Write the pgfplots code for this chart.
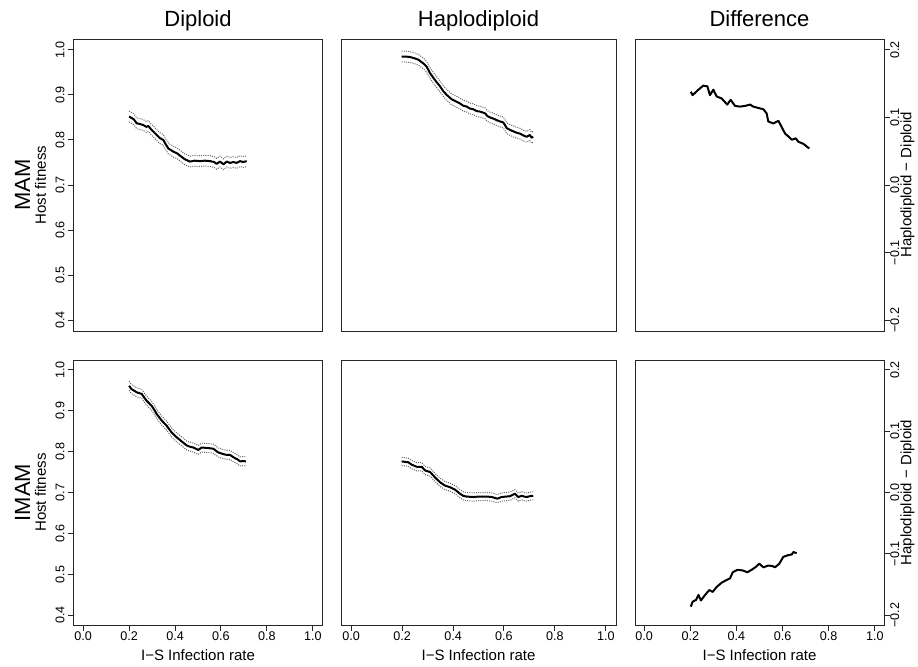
\documentclass[border=0pt]{standalone}
\usepackage{pgfplots}
\pgfplotsset{compat=1.18}
\usepackage{pgfplotstable}
\usepackage{fontspec}
\setmainfont{Liberation Sans}

% Diploid, MAM
\pgfplotstableread{
x y lo hi
0.200 0.852 0.840 0.864
0.210 0.849 0.837 0.861
0.220 0.846 0.834 0.858
0.233 0.837 0.825 0.849
0.250 0.835 0.823 0.847
0.262 0.833 0.821 0.845
0.275 0.829 0.817 0.841
0.284 0.831 0.819 0.843
0.295 0.824 0.812 0.836
0.305 0.819 0.807 0.831
0.320 0.811 0.799 0.823
0.334 0.804 0.792 0.816
0.349 0.800 0.788 0.812
0.360 0.790 0.778 0.802
0.371 0.781 0.769 0.793
0.393 0.774 0.762 0.786
0.410 0.770 0.758 0.782
0.422 0.765 0.753 0.777
0.443 0.757 0.745 0.769
0.465 0.752 0.740 0.764
0.485 0.754 0.742 0.766
0.509 0.753 0.741 0.765
0.530 0.754 0.742 0.766
0.553 0.753 0.741 0.765
0.570 0.751 0.739 0.763
0.581 0.747 0.735 0.759
0.596 0.752 0.740 0.764
0.611 0.746 0.734 0.758
0.625 0.752 0.740 0.764
0.640 0.749 0.737 0.761
0.654 0.751 0.739 0.763
0.668 0.749 0.737 0.761
0.683 0.753 0.741 0.765
0.697 0.751 0.739 0.763
0.712 0.753 0.741 0.765
}\dipMAM

% Haplodiploid, MAM
\pgfplotstableread{
x y lo hi
0.198 0.985 0.973 0.997
0.215 0.985 0.973 0.997
0.231 0.984 0.972 0.996
0.250 0.981 0.969 0.993
0.264 0.978 0.966 0.990
0.283 0.970 0.958 0.982
0.296 0.963 0.951 0.975
0.310 0.948 0.936 0.960
0.329 0.933 0.921 0.945
0.349 0.919 0.907 0.931
0.362 0.908 0.896 0.920
0.375 0.900 0.888 0.912
0.395 0.890 0.878 0.902
0.410 0.886 0.874 0.898
0.427 0.881 0.869 0.893
0.440 0.876 0.864 0.888
0.454 0.874 0.862 0.886
0.465 0.870 0.858 0.882
0.480 0.868 0.856 0.880
0.493 0.864 0.852 0.876
0.506 0.863 0.851 0.875
0.526 0.859 0.847 0.871
0.535 0.853 0.841 0.865
0.545 0.850 0.838 0.862
0.560 0.847 0.835 0.859
0.571 0.844 0.832 0.856
0.585 0.841 0.829 0.853
0.597 0.839 0.827 0.851
0.605 0.832 0.820 0.844
0.611 0.826 0.814 0.838
0.625 0.822 0.810 0.834
0.637 0.819 0.807 0.831
0.650 0.816 0.804 0.828
0.663 0.814 0.802 0.826
0.676 0.810 0.798 0.822
0.689 0.807 0.795 0.819
0.702 0.811 0.799 0.823
0.708 0.805 0.793 0.817
0.715 0.807 0.795 0.819
}\hapMAM

% Difference, MAM
\pgfplotstableread{
x y
0.202 0.138
0.210 0.133
0.235 0.141
0.256 0.147
0.274 0.146
0.285 0.133
0.300 0.141
0.314 0.131
0.336 0.128
0.360 0.119
0.375 0.126
0.394 0.117
0.415 0.116
0.437 0.117
0.459 0.119
0.473 0.116
0.495 0.114
0.517 0.112
0.531 0.106
0.538 0.094
0.560 0.091
0.582 0.095
0.596 0.086
0.611 0.076
0.625 0.072
0.640 0.067
0.658 0.069
0.668 0.064
0.690 0.061
0.705 0.057
0.716 0.054
}\difMAM

% Diploid, IMAM
\pgfplotstableread{
x y lo hi
0.200 0.961 0.950 0.972
0.210 0.953 0.942 0.964
0.222 0.949 0.938 0.960
0.233 0.945 0.934 0.956
0.245 0.943 0.932 0.954
0.255 0.941 0.930 0.952
0.266 0.932 0.921 0.943
0.277 0.924 0.913 0.935
0.298 0.912 0.901 0.923
0.310 0.902 0.891 0.913
0.320 0.892 0.881 0.903
0.342 0.876 0.865 0.887
0.364 0.863 0.852 0.874
0.385 0.847 0.836 0.858
0.407 0.835 0.824 0.846
0.429 0.825 0.814 0.836
0.451 0.815 0.804 0.826
0.465 0.812 0.801 0.823
0.480 0.810 0.799 0.821
0.501 0.804 0.793 0.815
0.516 0.810 0.799 0.821
0.538 0.809 0.798 0.820
0.555 0.808 0.797 0.819
0.567 0.807 0.796 0.818
0.588 0.798 0.787 0.809
0.610 0.794 0.783 0.805
0.625 0.792 0.781 0.803
0.639 0.792 0.781 0.803
0.650 0.788 0.777 0.799
0.661 0.784 0.773 0.795
0.672 0.781 0.770 0.792
0.683 0.776 0.765 0.787
0.696 0.777 0.766 0.788
0.709 0.776 0.765 0.787
}\dipIMAM

% Haplodiploid, IMAM
\pgfplotstableread{
x y lo hi
0.198 0.776 0.766 0.786
0.211 0.775 0.765 0.785
0.224 0.774 0.764 0.784
0.238 0.768 0.758 0.778
0.257 0.763 0.753 0.773
0.277 0.763 0.753 0.773
0.290 0.754 0.744 0.764
0.310 0.750 0.740 0.760
0.329 0.737 0.727 0.747
0.349 0.725 0.715 0.735
0.368 0.717 0.707 0.727
0.388 0.713 0.703 0.723
0.408 0.707 0.697 0.717
0.427 0.697 0.687 0.707
0.440 0.692 0.682 0.702
0.454 0.690 0.680 0.700
0.480 0.689 0.679 0.699
0.500 0.690 0.680 0.700
0.519 0.690 0.680 0.700
0.535 0.690 0.680 0.700
0.552 0.689 0.679 0.699
0.574 0.685 0.675 0.695
0.591 0.689 0.679 0.699
0.607 0.690 0.680 0.700
0.624 0.691 0.681 0.701
0.643 0.697 0.687 0.707
0.656 0.689 0.679 0.699
0.670 0.692 0.682 0.702
0.680 0.690 0.680 0.700
0.689 0.689 0.679 0.699
0.702 0.691 0.681 0.701
0.715 0.692 0.682 0.702
}\hapIMAM

% Difference, IMAM
\pgfplotstableread{
x y
0.202 -0.186
0.210 -0.178
0.225 -0.175
0.235 -0.167
0.246 -0.176
0.264 -0.167
0.282 -0.159
0.297 -0.162
0.314 -0.154
0.336 -0.147
0.355 -0.143
0.372 -0.140
0.384 -0.130
0.404 -0.126
0.427 -0.127
0.447 -0.130
0.466 -0.126
0.485 -0.121
0.499 -0.116
0.517 -0.122
0.538 -0.119
0.557 -0.120
0.567 -0.122
0.586 -0.116
0.603 -0.105
0.625 -0.102
0.640 -0.101
0.647 -0.097
0.661 -0.099
}\difIMAM

\pgfplotsset{
  every axis title/.style={at={(axis description cs:0.5,1)}, anchor=base,
    yshift=6.15pt, font=\fontsize{11}{13}\selectfont},
  panel/.style={
    scale only axis,
    xmin=-0.04, xmax=1.04,
    ymin=0.376, ymax=1.024,
    axis line style={black!85, line width=0.5pt},
    tick style={black!85, line width=0.5pt},
    tick align=outside,
    major tick length=3pt,
    xtick=\empty, ytick=\empty,
    ticklabel style={font=\fontsize{6.3}{7}\selectfont},
    label style={font=\fontsize{7.5}{9}\selectfont},
  },
  leftcol/.style={
    ytick={0.4,0.5,0.6,0.7,0.8,0.9,1.0},
    yticklabels={0.4,0.5,0.6,0.7,0.8,0.9,1.0},
    ytick pos=left,
    yticklabel style={rotate=90, anchor=south, inner sep=0pt, yshift=1.5pt},
    ylabel={Host fitness},
    ylabel style={at={(axis description cs:0,0.5)}, anchor=center, yshift=16.75pt},
  },
  rightcol/.style={
    ymin=-0.216, ymax=0.216,
    ytick={-0.2,-0.1,0,0.1,0.2},
    yticklabels={−0.2,−0.1,0.0,0.1,0.2},
    ytick pos=right,
    yticklabel pos=right,
    yticklabel style={rotate=90, anchor=north, inner sep=0pt},
    ylabel={Haplodiploid − Diploid},
    ylabel style={at={(axis description cs:1,0.5)}, anchor=center, yshift=-11.75pt},
  },
  bottomrow/.style={
    xtick={0,0.2,0.4,0.6,0.8,1.0},
    xticklabels={0.0,0.2,0.4,0.6,0.8,1.0},
    xtick pos=bottom,
    xticklabel style={anchor=north, inner sep=0pt},
    xlabel={I−S Infection rate},
    xlabel style={at={(axis description cs:0.5,0)}, anchor=base, yshift=-17.5pt},
  },
  mainline/.style={black, line width=1pt, line join=round},
  ciline/.style={black!60, line width=0.5pt, dash pattern=on 0.5pt off 0.6pt},
}

\begin{document}
\begin{tikzpicture}
\useasboundingbox (0,0) rectangle (459pt,-333pt);

% top row: MAM
\begin{axis}[panel, leftcol, at={(37pt,-19.5pt)}, anchor=north west,
  width=124pt, height=146pt, title={Diploid}]
  \addplot[ciline] table[x=x, y=lo] {\dipMAM};
  \addplot[ciline] table[x=x, y=hi] {\dipMAM};
  \addplot[mainline] table[x=x, y=y] {\dipMAM};
\end{axis}
\begin{axis}[panel, at={(170.5pt,-19.5pt)}, anchor=north west,
  width=137.5pt, height=146pt, title={Haplodiploid}]
  \addplot[ciline] table[x=x, y=lo] {\hapMAM};
  \addplot[ciline] table[x=x, y=hi] {\hapMAM};
  \addplot[mainline] table[x=x, y=y] {\hapMAM};
\end{axis}
\begin{axis}[panel, rightcol, at={(317.5pt,-19.5pt)}, anchor=north west,
  width=124.5pt, height=146pt, title={Difference}]
  \addplot[mainline] table[x=x, y=y] {\difMAM};
\end{axis}

% bottom row: IMAM
\begin{axis}[panel, leftcol, bottomrow, at={(37pt,-180pt)}, anchor=north west,
  width=124pt, height=132.5pt]
  \addplot[ciline] table[x=x, y=lo] {\dipIMAM};
  \addplot[ciline] table[x=x, y=hi] {\dipIMAM};
  \addplot[mainline] table[x=x, y=y] {\dipIMAM};
\end{axis}
\begin{axis}[panel, bottomrow, at={(170.5pt,-180pt)}, anchor=north west,
  width=137.5pt, height=132.5pt]
  \addplot[ciline] table[x=x, y=lo] {\hapIMAM};
  \addplot[ciline] table[x=x, y=hi] {\hapIMAM};
  \addplot[mainline] table[x=x, y=y] {\hapIMAM};
\end{axis}
\begin{axis}[panel, rightcol, bottomrow, at={(317.5pt,-180pt)}, anchor=north west,
  width=124.5pt, height=132.5pt]
  \addplot[mainline] table[x=x, y=y] {\difIMAM};
\end{axis}

% row labels
\node[rotate=90, font=\fontsize{11}{13}\selectfont] at (11.25pt,-92.5pt) {MAM};
\node[rotate=90, font=\fontsize{11}{13}\selectfont] at (11.25pt,-246.25pt) {IMAM};
\end{tikzpicture}
\end{document}
